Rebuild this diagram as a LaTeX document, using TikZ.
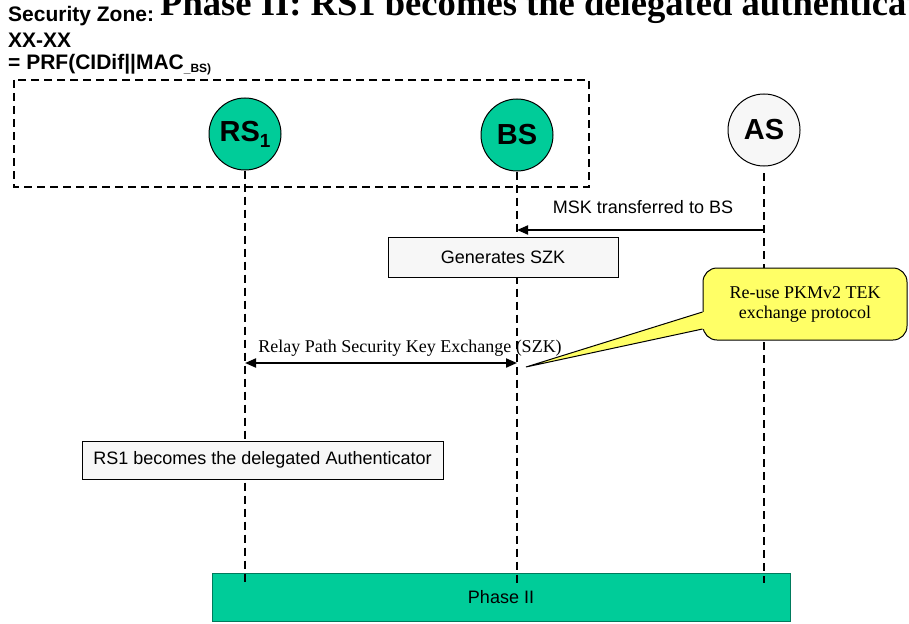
\documentclass[tikz,border=0pt]{standalone}
\usepackage{fontspec}
\setmainfont{Liberation Serif}
\newfontfamily\arialf{Liberation Sans}
\usetikzlibrary{arrows.meta,calc}
\definecolor{zgreen}{RGB}{0,204,153}
\definecolor{zgray}{RGB}{247,247,247}
\definecolor{zyellow}{RGB}{255,255,102}
\begin{document}
\begin{tikzpicture}[x=1pt,y=-1pt,
  ent/.style={circle,draw=black,line width=1pt,minimum size=72pt,inner sep=0pt,
    font=\arialf\bfseries\fontsize{29}{30}\selectfont},
  life/.style={line width=2pt,dash pattern=on 8pt off 5pt},
  msg/.style={line width=2pt,-{Triangle[length=11pt,width=9pt]}},
  dmsg/.style={line width=2pt,{Triangle[length=11pt,width=9pt]}-{Triangle[length=11pt,width=9pt]}},
  actbox/.style={draw=black,line width=1pt,fill=zgray,inner sep=0pt,
    font=\arialf\fontsize{18}{20}\selectfont},
  lbl/.style={font=\arialf\fontsize{18}{20}\selectfont,inner sep=0pt},
  tlbl/.style={font=\fontsize{18}{20}\selectfont,inner sep=0pt},
  zonetxt/.style={anchor=base west,inner sep=0pt,font=\arialf\bfseries\fontsize{21}{24}\selectfont},
]
\useasboundingbox (0,0) rectangle (909,623);
\clip (0,0) rectangle (909,623);

% title (clipped at top and right, as in the reference)
\node[anchor=base west,inner sep=0pt,font=\bfseries\fontsize{36.6}{40}\selectfont] (title) at (160,16)
  {Phase II: RS1 becomes the delegated authenticator};

% security zone text
\node[zonetxt] (sz1) at (8,22) {Security Zone:};
\node[zonetxt] (sz2) at (8,48) {XX-XX};
\node[zonetxt] (sz3) at (8,70) {= PRF(CIDif||MAC\raisebox{-3pt}{\fontsize{12}{13}\selectfont \_BS)}};

% security zone dashed box
\draw[life] (14,80) rectangle (589,187);

% phase box
\node[draw=zgreen!60!black,fill=zgreen,line width=1pt,minimum width=578pt,minimum height=48pt,
  inner sep=0pt,font=\arialf\fontsize{18}{20}\selectfont] (ph) at (501,597) {Phase II};

% entities
\node[ent,fill=zgreen] (rs) at (245,134) {RS\raisebox{-6pt}{\fontsize{19}{20}\selectfont 1}};
\node[ent,fill=zgreen] (bs) at (517,135) {BS};
\node[ent,fill=zgray] (as) at (764,130) {AS};

% lifeline ends
\coordinate (rsE) at (rs |- 0,583);
\coordinate (bsE) at (bs |- 0,583);
\coordinate (asE) at (as |- 0,583);
\coordinate (asS) at (as |- 0,173);

\draw[life] (rs.south) -- (rsE);
\draw[life] (bs.south) -- (bsE);
\draw[life] (asS) -- (asE);

% MSK message
\coordinate (asM) at (as |- 0,230);
\coordinate (bsM) at (bs |- 0,230);
\draw[msg] (asM) -- (bsM);
\node[lbl,anchor=base] (msklbl) at (643,213) {MSK transferred to BS};

% generates SZK
\node[actbox,minimum width=230pt,minimum height=40pt] (gen) at (503,257) {Generates SZK};

% relay path exchange
\coordinate (rsR) at (rs |- 0,363);
\coordinate (bsR) at (bs |- 0,363);
\draw[dmsg] (rsR) -- (bsR);
\node[tlbl,anchor=base] (szklbl) at (410,352) {Relay Path Security Key Exchange (SZK)};

% callout
\node[draw=black,line width=1pt,fill=zyellow,rounded corners=14pt,minimum width=204pt,
  minimum height=72pt,align=center,inner sep=0pt,font=\fontsize{18}{20}\selectfont] (call) at (805,304)
  {Re-use PKMv2 TEK\\exchange protocol};
\coordinate (ctip) at (526,367);
\fill[zyellow] ($(call.west)+(0,8)$) -- (ctip) -- ($(call.west)+(0,25)$) -- ($(call.west)+(3,25)$) -- ($(call.west)+(3,8)$) -- cycle;
\draw[line width=1pt] ($(call.west)+(0,8)$) -- (ctip) -- ($(call.west)+(0,25)$);

% delegated authenticator
\node[actbox,minimum width=361pt,minimum height=38pt] (deleg) at (262.5,460)
  {RS1 becomes the delegated Authenticator};
\end{tikzpicture}
\end{document}
